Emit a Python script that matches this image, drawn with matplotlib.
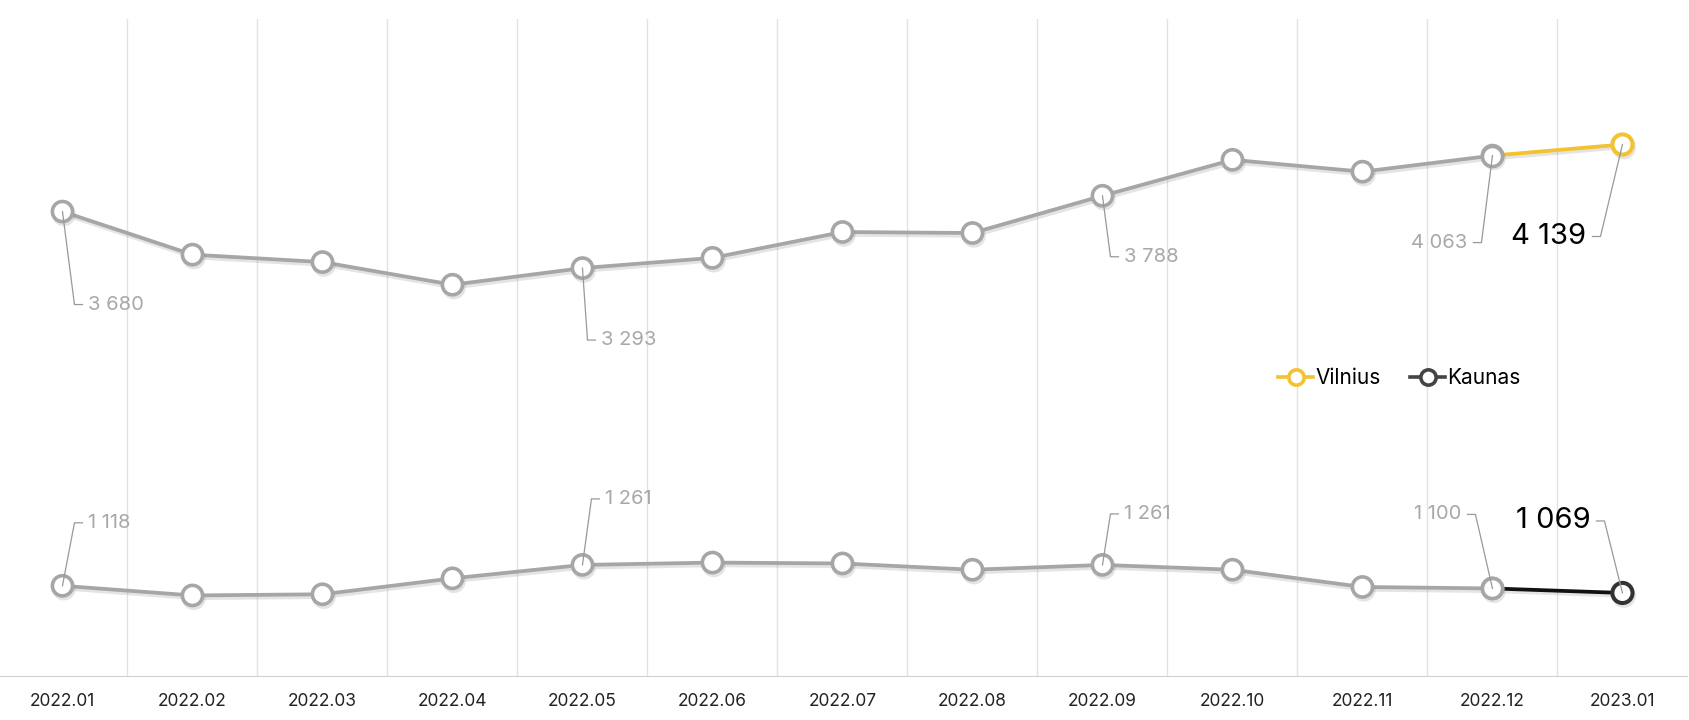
import matplotlib.pyplot as plt
import matplotlib.patheffects as pe
from matplotlib.lines import Line2D

plt.rcParams['font.family'] = ['Inter', 'DejaVu Sans']

months = ["2022.01", "2022.02", "2022.03", "2022.04", "2022.05", "2022.06", "2022.07",
          "2022.08", "2022.09", "2022.10", "2022.11", "2022.12", "2023.01"]
vilnius = [3680, 3385, 3334, 3179, 3293, 3363, 3540, 3533, 3788, 4034, 3953, 4063, 4139]
kaunas = [1118, 1052, 1060, 1169, 1261, 1277, 1271, 1228, 1261, 1228, 1110, 1100, 1069]

# which points get a label, and where the leader bends to (pixels)
v_labels = {0: (12, -93), 4: (5, -72), 8: (8, -61), 11: (-11, -87), 12: (-22, -92)}
k_labels = {0: (12, 63), 4: (9, 66), 8: (8, 51), 11: (-17, 74), 12: (-18, 72)}

GRAY = "#a6a6a6"
YELLOW = "#f2c230"
DARK = "#333333"

fig = plt.figure(figsize=(16.9, 7.2), dpi=100)
ax = fig.add_axes([-0.0015, 0.061, 1, 0.913])
ax.set_xlim(-0.5, len(months) - 0.5)
ax.set_ylim(500, 5000)

x = list(range(len(months)))
shadow = [pe.SimpleLineShadow(offset=(1, -2), shadow_color="#888888", alpha=0.22), pe.Normal()]
LW, MS, MEW = 2.7, 14.5, 2.6


def draw_series(vals, last_color, last_edge, labels):
    ax.plot(x[:-1], vals[:-1], color=GRAY, lw=LW, marker="o", ms=MS,
            mfc="white", mec=GRAY, mew=MEW, zorder=3, path_effects=shadow)
    ax.plot(x[-2:], vals[-2:], color=last_color, lw=LW, zorder=2, path_effects=shadow)
    ax.plot(x[-1:], vals[-1:], lw=0, marker="o", ms=MS,
            mfc="white", mec=last_edge, mew=MEW + 0.3, zorder=4, path_effects=shadow)
    ax.plot(x[-2:-1], vals[-2:-1], lw=0, marker="o", ms=MS,
            mfc="white", mec=GRAY, mew=MEW, zorder=4)
    for i, (dx, dy) in labels.items():
        last = i == len(vals) - 1
        side = 1 if dx > 0 else -1
        px, py = ax.transData.transform((i, vals[i]))
        ex, ey = px + dx, py + dy
        fig.add_artist(Line2D([px, ex, ex + side * 8], [py, ey, ey], transform=None,
                              color="#999999", lw=0.9, zorder=6))
        txt = f"{vals[i]:,}".replace(",", " ")
        fig.text(ex + side * 14, ey, txt, transform=None,
                 ha="left" if side > 0 else "right", va="center",
                 color="black" if last else "#a8a8a8",
                 fontsize=21 if last else 14.5)


draw_series(vilnius, YELLOW, YELLOW, v_labels)
draw_series(kaunas, "#111111", DARK, k_labels)

for b in range(len(months) - 1):
    ax.axvline(b + 0.5, color="#e2e2e2", lw=1, zorder=0)
ax.set_xticks(x)
ax.set_xticklabels(months, fontsize=12.5, color="#222222")
ax.tick_params(axis="x", length=0, pad=12)
ax.set_yticks([])
for s in ["top", "left", "right"]:
    ax.spines[s].set_visible(False)
ax.spines["bottom"].set_color("#d0d0d0")

h1 = Line2D([], [], color=YELLOW, lw=2.6, marker="o", ms=11, mfc="white", mec=YELLOW, mew=2.6)
h2 = Line2D([], [], color="#444444", lw=2.6, marker="o", ms=11, mfc="white", mec="#444444", mew=2.6)
fig.legend([h1, h2], ["Vilnius", "Kaunas"], loc="center", bbox_to_anchor=(0.828, 0.475),
           ncol=2, frameon=False, fontsize=15, handlelength=1.7, handletextpad=0.1,
           columnspacing=1.4)

fig.savefig("out.png", dpi=100, facecolor="white")
